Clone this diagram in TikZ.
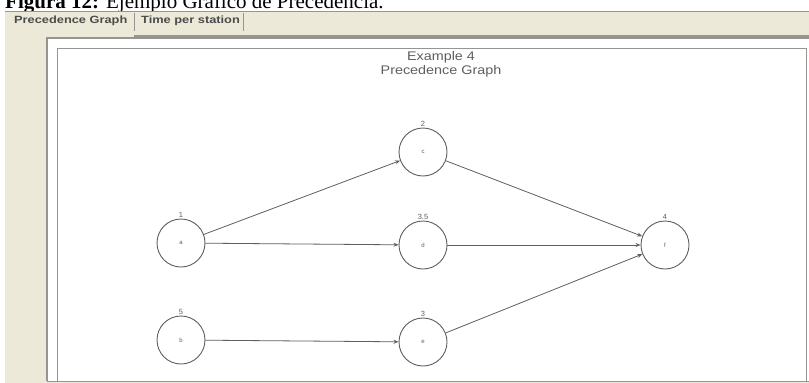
\documentclass[tikz,border=0pt]{standalone}
\usepackage{fontspec}
\setmainfont{Liberation Serif}
\setsansfont{Liberation Sans}
\newfontfamily\guifont[FakeStretch=1.15]{Liberation Sans}
\newfontfamily\tabfont[FakeStretch=1.22]{Liberation Sans}
\usepackage{tikz}
\usetikzlibrary{arrows.meta, positioning}
\definecolor{panel}{RGB}{236,233,216}
\definecolor{frameline}{RGB}{150,150,145}
\definecolor{ink}{RGB}{95,95,95}

\begin{document}
\begin{tikzpicture}[x=1pt, y=-1pt,
    task/.style={circle, draw=ink, line width=0.9pt, minimum size=48pt,
                 inner sep=0pt, font=\sffamily\fontsize{6}{6}\selectfont, text=ink},
    dur/.style={font=\sffamily\fontsize{7.5}{7.5}\selectfont, text=ink, inner sep=1pt},
    prec/.style={draw=ink, line width=0.8pt, -{Stealth[length=5pt, width=4pt]}},
    tab/.style={font=\tabfont\bfseries\fontsize{10.5}{11}\selectfont, text=black!70}]
  \useasboundingbox (0,0) rectangle (809,383);
  \fill[white] (0,0) rectangle (809,383);

  % caption (cut at the top)
  \node[anchor=base west, inner sep=0pt, font=\fontsize{21}{21}\selectfont]
    (cap) at (5,8) {\textbf{Figura 12:} Ejemplo Gráfico de Precedencia.};

  % window background and tab bar
  \fill[panel] (5,11) rectangle (809,383);
  \draw[frameline, line width=1pt] (5,11) -- (809,11);
  \draw[frameline, line width=1.2pt] (134,36) -- (809,36);
  \node[tab, anchor=west, inner sep=0pt] (tab1) at (14,21) {Precedence Graph};
  \node[tab, anchor=west, inner sep=0pt] (tab2) at (141,21) {Time per station};
  \draw[frameline, line width=1pt] (134,13) -- (134,31);
  \draw[frameline, line width=1pt] (243,13) -- (243,31);

  % graph panel
  \fill[white] (47,38) rectangle (809,381);
  \draw[frameline, line width=1.2pt] (47,381) -- (47,38) -- (809,38);
  \draw[frameline, line width=0.8pt] (57,381) -- (57,48) -- (806,48) -- (806,381);
  \draw[frameline, line width=1pt] (47,381) -- (809,381);

  % title
  \node[font=\guifont\fontsize{12.5}{14}\selectfont, text=ink, align=center]
    (title) at (441,64) {Example 4\\Precedence Graph};

  % tasks
  \node[task] (a) at (181,243) {a};
  \node[task] (b) at (181,340) {b};
  \node[task] (c) at (423,152) {c};
  \node[task] (d) at (423,245) {d};
  \node[task] (e) at (423,342) {e};
  \node[task] (f) at (665,245) {f};

  % task times
  \node[dur, above=0pt of a] (ta) {1};
  \node[dur, above=0pt of b] (tb) {5};
  \node[dur, above=0pt of c] (tc) {2};
  \node[dur, above=0pt of d] (td) {3.5};
  \node[dur, above=0pt of e] (te) {3};
  \node[dur, above=0pt of f] (tf) {4};

  % precedences
  \draw[prec] (a) -- (c);
  \draw[prec] (a) -- (d);
  \draw[prec] (b) -- (e);
  \draw[prec] (c) -- (f);
  \draw[prec] (d) -- (f);
  \draw[prec] (e) -- (f);
\end{tikzpicture}
\end{document}
